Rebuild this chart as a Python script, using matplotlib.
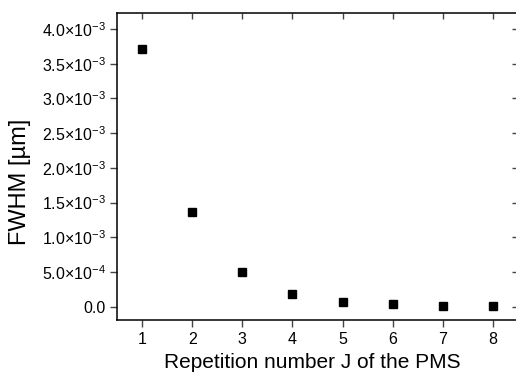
import matplotlib
matplotlib.use("Agg")
import matplotlib.pyplot as plt
import matplotlib.lines as mlines

plt.rcParams['font.family'] = ['Liberation Sans', 'DejaVu Sans']
plt.rcParams['mathtext.fontset'] = 'custom'
plt.rcParams['mathtext.rm'] = 'Liberation Sans'
plt.rcParams['mathtext.it'] = 'Liberation Sans:italic'
plt.rcParams['mathtext.bf'] = 'Liberation Sans:bold'

# Data
repetition = [1, 2, 3, 4, 5, 6, 7, 8]
fwhm = [3.72e-3, 1.36e-3, 5.0e-4, 1.87e-4, 7.2e-5, 3.4e-5, 1.6e-5, 1.2e-5]
xticks = [1, 2, 3, 4, 5, 6, 7, 8]
yticks = [0, 5e-4, 1e-3, 1.5e-3, 2e-3, 2.5e-3, 3e-3, 3.5e-3, 4e-3]
ytick_labels = ["0.0",
                r"$5.0{\times}10^{-4}$",
                r"$1.0{\times}10^{-3}$",
                r"$1.5{\times}10^{-3}$",
                r"$2.0{\times}10^{-3}$",
                r"$2.5{\times}10^{-3}$",
                r"$3.0{\times}10^{-3}$",
                r"$3.5{\times}10^{-3}$",
                r"$4.0{\times}10^{-3}$"]

fig = plt.figure(figsize=(5.16, 3.74), dpi=100)
ax = fig.add_axes([117/516, 54/374, (518-117)/516, (320-12.7)/374])

ax.plot(repetition, fwhm, linestyle='none', marker='s', markersize=5.6,
        color='black')

ax.set_xlim(0.5, 8.5)
ax.set_ylim(-1.92e-4, 4.236e-3)
ax.set_xticks(xticks)
ax.set_yticks(yticks)
ax.set_yticklabels(ytick_labels)

for s in ax.spines.values():
    s.set_linewidth(1.1)
ax.spines['right'].set_visible(False)

ax.tick_params(axis='both', which='major', length=5, width=1.0,
               color='#444444', labelsize=11.5, pad=3)
ax.tick_params(axis='x', pad=4)
ax.tick_params(top=True, right=True)

# top/right ticks inward, bottom/left outward
for t in ax.xaxis.get_major_ticks():
    t.tick1line.set_marker(mlines.TICKDOWN)
    t.tick2line.set_marker(mlines.TICKDOWN)
    t.tick1line.set_markersize(5)
    t.tick2line.set_markersize(4)
for t in ax.yaxis.get_major_ticks():
    t.tick1line.set_marker(mlines.TICKLEFT)
    t.tick2line.set_marker(mlines.TICKLEFT)
    t.tick1line.set_markersize(5)
    t.tick2line.set_markersize(4)

ax.set_xlabel("Repetition number J of the PMS", fontsize=15)
ax.set_ylabel("FWHM [\u00b5m]", fontsize=17)
ax.xaxis.set_label_coords(0.486, -0.108)
ax.yaxis.set_label_coords(-0.215, 0.449)

fig.savefig("out.png", dpi=100)
